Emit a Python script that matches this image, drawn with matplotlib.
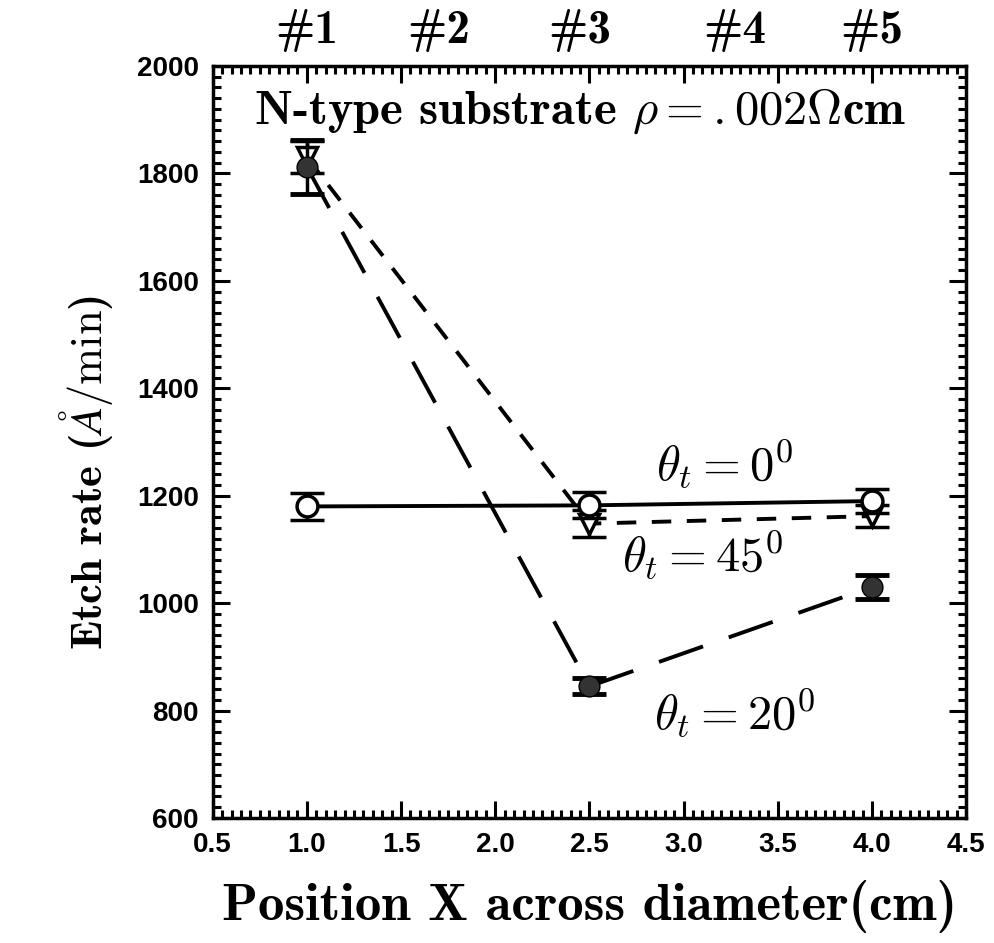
import matplotlib
matplotlib.use("Agg")
import matplotlib.pyplot as plt
from matplotlib.ticker import MultipleLocator

plt.rcParams['mathtext.fontset'] = 'cm'

# data
x = [1.0, 2.5, 4.0]
theta0 = [1180, 1182, 1190]
theta0_err = [25, 24, 22]
theta45 = [1830, 1148, 1162]
theta45_err = [30, 25, 20]
theta20 = [1812, 845, 1030]
theta20_err = [50, 15, 22]

top_labels = ['#1', '#2', '#3', '#4', '#5']
top_pos = [1.0, 1.7, 2.45, 3.27, 4.0]

fig = plt.figure(figsize=(9.94, 9.43), dpi=100)
ax = fig.add_axes([0.214, 0.1326, 0.758, 0.7974])

ax.errorbar(x, theta45, yerr=theta45_err, fmt='v', color='black', mfc='white',
            mec='black', mew=2.5, ms=14, lw=0, elinewidth=2.5, capsize=12, capthick=3.5, zorder=3)
ax.plot(x, theta45, color='black', lw=2.8, dashes=(5, 4), zorder=2)

ax.errorbar(x, theta20, yerr=theta20_err, fmt='o', color='black', mfc='#333333',
            mec='black', ms=15, lw=0, elinewidth=2.5, capsize=12, capthick=3.5, zorder=4)
ax.plot(x, theta20, color='black', lw=2.8, dashes=(12, 7), zorder=2)

ax.errorbar(x, theta0, yerr=theta0_err, fmt='o', color='black', mfc='white',
            mec='black', mew=2.5, ms=15, lw=0, elinewidth=2.5, capsize=12, capthick=3.5, zorder=5)
ax.plot(x, theta0, color='black', lw=2.8, zorder=2)

ax.set_xlim(0.5, 4.5)
ax.set_ylim(600, 2000)
ax.xaxis.set_major_locator(MultipleLocator(0.5))
ax.xaxis.set_minor_locator(MultipleLocator(0.05))
ax.yaxis.set_major_locator(MultipleLocator(200))
ax.yaxis.set_minor_locator(MultipleLocator(20))
ax.tick_params(which='both', direction='in', top=True, right=True, width=2.2)
ax.tick_params(which='major', length=12)
ax.tick_params(which='minor', length=6)
for s in ax.spines.values():
    s.set_linewidth(2.5)

ax.set_xticklabels([f'{v:.1f}' for v in ax.get_xticks()])
for lab in ax.get_xticklabels() + ax.get_yticklabels():
    lab.set_fontfamily('Liberation Sans')
    lab.set_fontweight('bold')
    lab.set_fontsize(20)
ax.tick_params(axis='x', pad=10)
ax.tick_params(axis='y', pad=10)

ax.set_xlabel('Position X across diameter(cm)', fontfamily='cmb10', fontsize=38, labelpad=16)
ax.set_ylabel(r'Etch rate ($\AA/\mathrm{min}$)', fontfamily='cmb10', fontsize=32)
ax.yaxis.set_label_coords(-0.13, 0.46)

for lbl, p in zip(top_labels, top_pos):
    ax.text(p, 1.018, lbl, transform=ax.get_xaxis_transform(), ha='center', va='bottom',
            fontsize=34, fontfamily='cmb10')

ax.text(2.45, 1915, r'N-type substrate $\rho{=}.002\Omega$cm', ha='center', va='center',
        fontsize=35, fontfamily='cmb10')
ax.text(3.22, 1258, r'$\theta_t = 0^0$', ha='center', va='center', fontsize=35)
ax.text(3.1, 1088, r'$\theta_t = 45^0$', ha='center', va='center', fontsize=35)
ax.text(3.27, 795, r'$\theta_t = 20^0$', ha='center', va='center', fontsize=35)

fig.savefig('out.png', dpi=100)
